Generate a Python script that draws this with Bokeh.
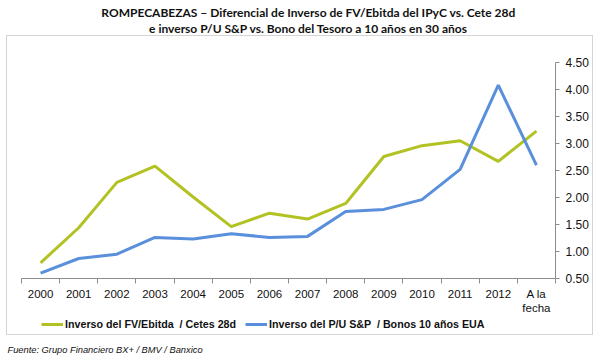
from bokeh.plotting import figure
from bokeh.layouts import column
from bokeh.models import (LinearAxis, FixedTicker, Range1d, Label, InlineStyleSheet,
                          Legend, LegendItem, CustomJSTickFormatter)
from bokeh.embed import file_html
from bokeh.resources import INLINE

categories = ["2000", "2001", "2002", "2003", "2004", "2005", "2006", "2007",
              "2008", "2009", "2010", "2011", "2012", "A la\nfecha"]
fv_ebitda_cetes = [0.79, 1.44, 2.28, 2.58, 2.01, 1.46, 1.71, 1.60,
                   1.89, 2.76, 2.96, 3.05, 2.67, 3.23]
pu_sp_bonos = [0.60, 0.87, 0.95, 1.26, 1.23, 1.33, 1.26, 1.28,
               1.74, 1.78, 1.96, 2.52, 4.08, 2.60]
y_ticks = [0.5, 1.0, 1.5, 2.0, 2.5, 3.0, 3.5, 4.0, 4.5]

title_1 = "ROMPECABEZAS \u2013 Diferencial de Inverso de FV/Ebitda del IPyC vs. Cete 28d"
title_2 = "e inverso P/U S&P vs. Bono del Tesoro a 10 a\u00f1os en 30 a\u00f1os"
legend_1 = "Inverso del FV/Ebitda  / Cetes 28d"
legend_2 = "Inverso del P/U S&P  / Bonos 10 a\u00f1os EUA"
source = "Fuente: Grupo Financiero BX+ / BMV / Banxico"

GREEN = "#b2c222"
BLUE = "#5a8fdc"
AXIS = "#8c8c8c"
TXT = "#111111"
FONT = "Liberation Sans"

W = 601
RIGHT = 555                 # right edge of every frame (px)
PLOT_L = 21                 # left edge of the category area (px)
H_TOP, H_MAIN, H_BOT = 35, 281, 40
n = len(categories)
x = list(range(n))
unit = (RIGHT - PLOT_L) / n


def bare(h):
    f = figure(width=W, height=h, output_backend="svg", toolbar_location=None,
               x_range=Range1d(0, RIGHT), y_range=Range1d(h, 0),
               x_axis_location=None, y_axis_location=None,
               min_border=0, min_border_left=0, min_border_right=W - RIGHT,
               min_border_top=0, min_border_bottom=0)
    f.outline_line_color = None
    f.xgrid.visible = False
    f.ygrid.visible = False
    f.background_fill_color = None
    f.border_fill_color = None
    return f


# ---- title strip ----
top = bare(H_TOP)
for txt, cy in [(title_1, 12), (title_2, 28)]:
    top.add_layout(Label(x=308, y=cy, text=txt, text_align="center",
                         text_baseline="middle", text_font="Lato",
                         text_font_style="bold", text_font_size="12px",
                         text_color=TXT))

# ---- main chart ----
p = figure(width=W, height=H_MAIN, output_backend="svg", toolbar_location=None,
           x_range=Range1d(-0.5 - PLOT_L / unit, n - 0.5), y_range=Range1d(0.5, 4.5),
           x_axis_location=None, y_axis_location=None,
           min_border_left=0, min_border_right=W - RIGHT,
           min_border_top=62 - H_TOP, min_border_bottom=H_TOP + H_MAIN - 284)
p.outline_line_color = None
p.xgrid.visible = False
p.ygrid.visible = False
p.background_fill_color = None
p.border_fill_color = None

labels = {i: c for i, c in enumerate(categories)}
xaxis = LinearAxis(ticker=FixedTicker(ticks=x, minor_ticks=[i - 0.5 for i in range(n + 1)]),
                   major_label_overrides=labels, bounds=(-0.5, n - 0.5))
xaxis.major_tick_out = 0
xaxis.major_tick_in = 0
xaxis.minor_tick_out = 5
xaxis.minor_tick_in = 0
xaxis.minor_tick_line_color = AXIS
xaxis.axis_line_color = AXIS
xaxis.major_label_standoff = 4
xaxis.major_label_text_font = FONT
xaxis.major_label_text_font_size = "11.5px"
xaxis.major_label_text_color = TXT
p.add_layout(xaxis, "below")

yaxis = LinearAxis(ticker=FixedTicker(ticks=y_ticks, minor_ticks=[]),
                   formatter=CustomJSTickFormatter(code="return tick.toFixed(2);"))
yaxis.major_tick_out = 4
yaxis.major_tick_in = 0
yaxis.major_tick_line_color = AXIS
yaxis.axis_line_color = AXIS
yaxis.major_label_standoff = 6
yaxis.major_label_text_font = FONT
yaxis.major_label_text_font_size = "12px"
yaxis.major_label_text_color = TXT
p.add_layout(yaxis, "right")

p.line(x, fv_ebitda_cetes, line_color=GREEN, line_width=3)
p.line(x, pu_sp_bonos, line_color=BLUE, line_width=3)

# ---- legend + source strip ----
bot = bare(H_BOT)
# same series, mapped onto a range that keeps them out of this strip's view;
# they only provide the legend swatches
bot.extra_x_ranges = {"offview": Range1d(-100, -50)}
k1 = bot.line(x, fv_ebitda_cetes, line_color=GREEN, line_width=3, x_range_name="offview")
k2 = bot.line(x, pu_sp_bonos, line_color=BLUE, line_width=3, x_range_name="offview")
legend = Legend(items=[LegendItem(label=legend_1, renderers=[k1]),
                       LegendItem(label=legend_2, renderers=[k2])],
                orientation="horizontal", location=(41, H_BOT - 14),
                padding=0, margin=0, spacing=9, label_standoff=2,
                glyph_width=22, glyph_height=12, label_height=12,
                label_text_font=FONT, label_text_font_style="bold",
                label_text_font_size="10.7px", label_text_color=TXT,
                background_fill_alpha=0, border_line_color=None)
bot.add_layout(legend, "center")
bot.add_layout(Label(x=7, y=33, text=source, text_align="left",
                     text_baseline="middle", text_font=FONT, text_font_style="italic",
                     text_font_size="9.3px", text_color=TXT))

page = column(top, p, bot, spacing=0)
page.stylesheets = [InlineStyleSheet(css=(
    ":host{position:relative;}"
    ":host::after{content:'';position:absolute;left:6px;top:35px;width:585px;"
    "height:298px;border:1px solid #d4d4d4;pointer-events:none;z-index:5;}"))]

open("out.html", "w").write(file_html(page, INLINE))
